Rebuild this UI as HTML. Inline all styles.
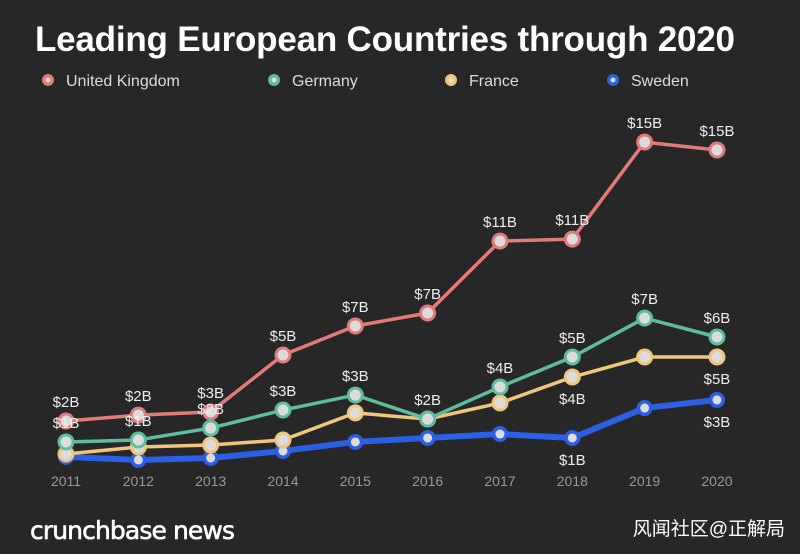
<!DOCTYPE html>
<html><head><meta charset="utf-8"><style>
body{margin:0;background:#272727;}
svg{display:block;font-family:"Liberation Sans","Noto Sans CJK SC",sans-serif;}
</style></head><body>
<svg id="c" width="800" height="554">
<rect width="800" height="554" fill="#272727"/>
<text x="35" y="51" fill="#ffffff" font-size="35" font-weight="bold" textLength="700">Leading European Countries through 2020</text>
<g id="legend"></g>
<g id="plot"></g>
<text x="30" y="539" fill="#ffffff" font-size="25" style="font-family:'DejaVu Sans',sans-serif" stroke="#ffffff" stroke-width="0.6" textLength="205">crunchbase news</text>
<text x="785" y="535" text-anchor="end" fill="#ffffff" font-size="19">风闻社区@正解局</text>
</svg>
<script>
const years=["2011","2012","2013","2014","2015","2016","2017","2018","2019","2020"];
const seriesNames=["United Kingdom","Germany","France","Sweden"];
const ukValues=[2.68,2.95,3.09,5.68,7.0,7.59,10.86,10.95,15.36,15.0];
const deValues=[1.73,1.82,2.36,3.18,3.86,2.77,4.23,5.59,7.36,6.5];
const frValues=[1.18,1.5,1.59,1.82,3.05,2.77,3.5,4.68,5.59,5.59];
const seValues=[1.05,0.91,1.0,1.32,1.73,1.91,2.09,1.91,3.27,3.64];
const ukLabels=["$2B","$2B","$3B","$5B","$7B","$7B","$11B","$11B","$15B","$15B"];
const deLabels=["$1B","$1B","$2B","$3B","$3B","$2B","$4B","$5B","$7B","$6B"];
const frLabels=["","","","","","","","$4B","","$5B"];
const seLabels=["","","","","","","","$1B","","$3B"];
const NS="http://www.w3.org/2000/svg";
const x=i=>66+i*72.33;
const y=v=>480-v*22;
const colors=["#e07b79","#5dbd9c","#f0c67c","#2c5fe3"];
const widths=[3.5,3.5,3.5,6];
const all=[ukValues,deValues,frValues,seValues];
const labs=[ukLabels,deLabels,frLabels,seLabels];
const below=[false,false,true,true];
const plot=document.getElementById('plot');
const leg=document.getElementById('legend');
function mk(t,a,p){const e=document.createElementNS(NS,t);for(const k in a)e.setAttribute(k,a[k]);p.appendChild(e);return e;}
const lx=[48,274,451,613];
seriesNames.forEach((n,s)=>{
 const g=mk('g',{},leg);
 
 
 mk('circle',{cx:lx[s],cy:80,r:6,fill:colors[s]},g);
 mk('circle',{cx:lx[s],cy:80,r:2.5,fill:'#dddddd'},g);
 const t=mk('text',{x:lx[s]+18,y:86,fill:'#dddddd','font-size':16},g);t.textContent=n;
});
years.forEach((yr,i)=>{
 const t=mk('text',{x:x(i),y:486,'text-anchor':'middle',fill:'#9a9a9a','font-size':14},plot);
 
 
 t.textContent=yr;
});
for(let s=3;s>=0;s--){
 const vals=all[s];
 const g=mk('g',{},plot);
 
 
 const p=mk('polyline',{points:vals.map((v,i)=>x(i)+','+y(v)).join(' '),fill:'none',stroke:colors[s],'stroke-width':widths[s],'stroke-linejoin':'round'},g);
 
 
 vals.forEach((v,i)=>{
  const c=mk('circle',{cx:x(i),cy:y(v),r:s==3?8:8.5,fill:colors[s]},g);
  
  
  mk('circle',{cx:x(i),cy:y(v),r:s==3?4.5:5.5,fill:'#dcdcdc'},g);
 });
}
for(let s=0;s<4;s++){
 all[s].forEach((v,i)=>{
  const L=labs[s][i];if(!L)return;
  const ty=below[s]?y(v)+27:y(v)-14;
  const t=mk('text',{x:x(i),y:ty,'text-anchor':'middle',fill:'#eeeeee','font-size':15},plot);
  
  
  t.textContent=L;
 });
}
</script>
</body></html>
